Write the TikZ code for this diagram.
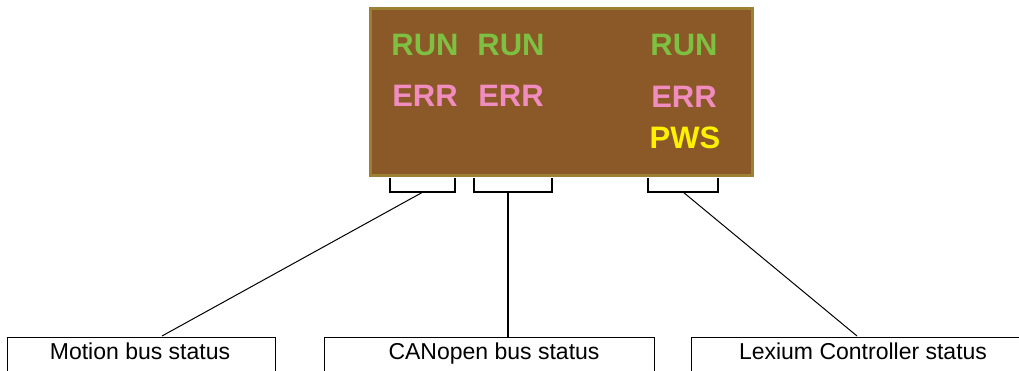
\documentclass[tikz,border=0pt]{standalone}
\usepackage{fontspec}
\setmainfont{Liberation Sans}
\usetikzlibrary{positioning}
\definecolor{panelbrown}{RGB}{139,88,39}
\definecolor{panelrim}{RGB}{156,128,52}
\definecolor{rungreen}{RGB}{125,192,66}
\definecolor{errpink}{RGB}{240,140,190}
\definecolor{pwsyellow}{RGB}{255,242,0}
\tikzset{
  led/.style={font=\fontsize{31}{31}\selectfont\bfseries, inner sep=0pt, anchor=base},
  caption/.style={font=\fontsize{23}{23}\selectfont, inner sep=0pt, anchor=base},
  bracket/.style={line width=2.2pt},
  leader/.style={line width=1pt},
  openbox/.style={line width=1pt},
}
\begin{document}
\begin{tikzpicture}[x=1pt,y=-1pt]
  \useasboundingbox (0,0) rectangle (1019,370);
  % front panel
  \node[draw=panelrim, fill=panelbrown, line width=3pt, minimum width=382pt, minimum height=167pt, inner sep=0pt] (panel) at (561,91.5) {};
  % status leds
  \node[led, text=rungreen] (run1) at (425,55) {RUN};
  \node[led, text=rungreen] (run2) at (511,55) {RUN};
  \node[led, text=rungreen] (run3) at (684,55) {RUN};
  \node[led, text=errpink] (err1) at (425,106) {ERR};
  \node[led, text=errpink] (err2) at (511,106) {ERR};
  \node[led, text=errpink] (err3) at (684,107) {ERR};
  \node[led, text=pwsyellow] (pws) at (685,148) {PWS};
  % brackets
  \coordinate (b1l) at (390,178); \coordinate (b1r) at (455,178);
  \coordinate (b2l) at (474,178); \coordinate (b2r) at (552,178);
  \coordinate (b3l) at (648,178); \coordinate (b3r) at (718,178);
  \draw[bracket] (b1l) -- ++(0,14) -| (b1r);
  \draw[bracket] (b2l) -- ++(0,14) -| (b2r);
  \draw[bracket] (b3l) -- ++(0,14) -| (b3r);
  \coordinate (b1m) at (423,192);
  \coordinate (b2m) at (508,192);
  \coordinate (b3m) at (683,192);
  % captions
  \node[caption] (motion) at (140,359) {Motion bus status};
  \node[caption] (canopen) at (494,359) {CANopen bus status};
  \node[caption] (lexium) at (863,359) {Lexium Controller status};
  \coordinate (m1) at (7,337);   \coordinate (m2) at (275,337);
  \coordinate (c1) at (324,337); \coordinate (c2) at (654,337);
  \coordinate (l1) at (691,337); \coordinate (l2) at (1030,337);
  \draw[openbox] (m1) ++(0,40) -- (m1) -- (m2) -- ++(0,40);
  \draw[openbox] (c1) ++(0,40) -- (c1) -- (c2) -- ++(0,40);
  \draw[openbox] (l1) ++(0,40) -- (l1) -- (l2);
  % leader lines
  \draw[leader] (b1m) -- (162,336);
  \draw[leader, line width=1.8pt] (b2m) -- (b2m |- c1);
  \draw[leader] (b3m) -- (857,336);
\end{tikzpicture}
\end{document}
